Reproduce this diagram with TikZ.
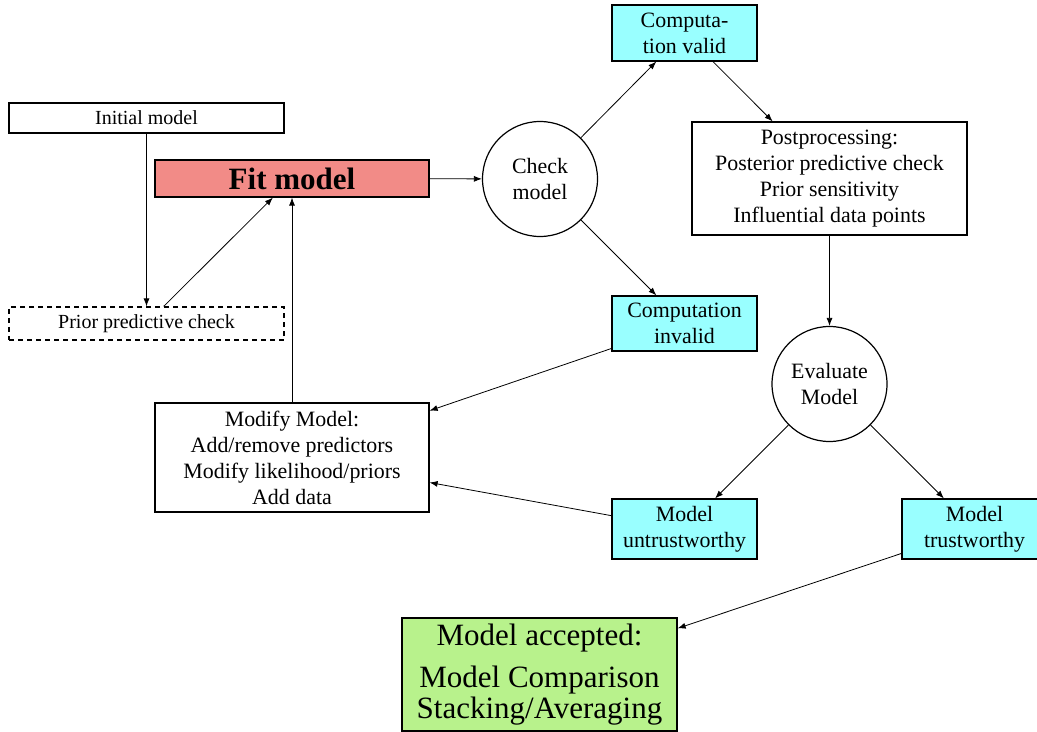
\documentclass[tikz,border=0pt]{standalone}
\usepackage{fontspec}
\setmainfont{Liberation Serif}
\usetikzlibrary{arrows.meta}
\definecolor{cyanfill}{HTML}{99FFFF}
\definecolor{fitred}{HTML}{F28B87}
\definecolor{accgreen}{HTML}{B8F28C}
\begin{document}
\begin{tikzpicture}[x=0.5pt,y=-0.5pt,
  base/.style={draw, line width=0.6pt, align=center, inner sep=0pt, font=\fontsize{10.95}{13}\selectfont},
  smallbox/.style={base, font=\fontsize{10}{12}\selectfont, minimum width=137.5pt},
  bigbox/.style={base, minimum width=137.5pt},
  cyanbox/.style={base, fill=cyanfill, minimum width=72.5pt},
  roundnode/.style={base, circle, minimum size=57.5pt},
  conn/.style={-{Latex[length=4pt,width=3pt]}, line width=0.4pt}]
\useasboundingbox (0,0) rectangle (1037,732);
\clip (0,0) rectangle (1037,732);

\node[smallbox, minimum height=15pt] (init) at (146.5,118) {Initial model};
\node[smallbox, dashed, dash pattern=on 2.5pt off 2pt, minimum height=16.5pt] (prior) at (146.5,323.5) {Prior predictive check};
\node[base, fill=fitred, minimum width=137pt, minimum height=18.5pt, font=\fontsize{15.5}{18}\selectfont\bfseries] (fit) at (292,178.5) {Fit model};
\node[roundnode] (check) at (540,179) {Check\\model};
\node[cyanbox, minimum height=28pt] (valid) at (684.5,33) {Computa-\\tion valid};
\node[bigbox, minimum height=56.5pt] (post) at (829.5,178.5) {Postprocessing:\\Posterior predictive check\\Prior sensitivity\\Influential data points};
\node[cyanbox, minimum height=27.5pt] (invalid) at (684.5,323.5) {Computation\\invalid};
\node[roundnode] (eval) at (829.5,384) {Evaluate\\Model};
\node[cyanbox, minimum height=30pt] (untrust) at (684.5,529) {Model\\untrustworthy};
\node[cyanbox, minimum height=30pt] (trust) at (974.5,529) {Model\\trustworthy};
\node[base, minimum width=137pt, minimum height=54.5pt] (modify) at (292,457.5) {Modify Model:\\Add/remove predictors\\Modify likelihood/priors\\Add data};
\node[base, fill=accgreen, minimum width=137.5pt, minimum height=56.5pt, font=\fontsize{15.5}{14}\selectfont] (accepted) at (539.5,674.5) {Model accepted:\\[6pt]Model Comparison\\Stacking/Averaging};

\draw[conn] (init) -- (prior);
\draw[conn] (prior) -- (fit);
\draw[conn] (modify) -- (fit);
\draw[conn] (fit) -- (check);
\draw[conn] (check) -- (valid);
\draw[conn] (check) -- (invalid);
\draw[conn] (valid) -- (post);
\draw[conn] (post) -- (eval);
\draw[conn] (eval) -- (untrust);
\draw[conn] (eval) -- (trust);
\draw[conn] (invalid) -- (modify);
\draw[conn] (untrust) -- (modify);
\draw[conn] (trust) -- (accepted);
\end{tikzpicture}
\end{document}
